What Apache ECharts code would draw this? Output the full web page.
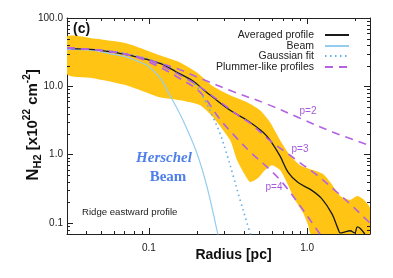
<!DOCTYPE html>
<html><head><meta charset="utf-8">
<script src="https://cdn.jsdelivr.net/npm/echarts@6/dist/echarts.min.js"></script>
<style>html,body{margin:0;padding:0;background:#fff}#c{width:393px;height:278px}</style>
</head><body><div id="c"></div>
<script>
// ---- axis ranges and ticks ----
const xMin = 0.0303, xMax = 2.5, yMin = 0.069, yMax = 100;
const xMajorTicks = [0.1, 1];
const xTickLabels = ['0.1', '1.0'];
const yMajorTicks = [0.1, 1, 10, 100];
const yTickLabels = ['0.1', '1.0', '10.0', '100.0'];
const xMinorTicks = [0.04,0.05,0.06,0.07,0.08,0.09,0.2,0.3,0.4,0.5,0.6,0.7,0.8,0.9,2];
const yMinorTicks = [0.08,0.09,0.2,0.3,0.4,0.5,0.6,0.7,0.8,0.9,2,3,4,5,6,7,8,9,20,30,40,50,60,70,80,90];

// ---- data (radius [pc], N_H2 [1e22 cm^-2]) ----
const bandUpper = [[0.0303,53.7],[0.0443,50.2],[0.0726,42.5],[0.1174,28.4],[0.157,22.4],[0.201,16.0],[0.254,10.0],[0.326,7.39],[0.417,5.84],[0.504,4.46],[0.583,2.98],[0.675,1.63],[0.78,0.98],[0.903,0.70],[1.09,0.594],[1.26,0.519],[1.40,0.397],[1.62,0.248],[1.87,0.217],[2.07,0.248],[2.26,0.224],[2.5,0.166]];
const bandLower = [[0.0303,15.0],[0.0443,13.1],[0.0726,10.3],[0.1174,6.91],[0.157,6.25],[0.2105,5.28],[0.254,3.53],[0.326,1.63],[0.361,0.83],[0.405,0.502],[0.436,0.397],[0.49,0.454],[0.542,0.594],[0.60,0.70],[0.675,0.594],[0.747,0.384],[0.839,0.217],[0.944,0.140],[1.015,0.0935],[1.06,0.069],[2.5,0.069]];
const averaged = [[0.0303,35.9],[0.049,33.6],[0.0758,28.4],[0.1174,21.7],[0.136,18.3],[0.157,15.2],[0.19,12.0],[0.22,9.0],[0.254,6.9],[0.326,4.46],[0.417,3.19],[0.527,2.13],[0.583,1.63],[0.675,0.95],[0.759,0.55],[0.877,0.39],[1.06,0.305],[1.245,0.224],[1.44,0.135],[1.57,0.082],[1.62,0.0715],[1.74,0.074],[1.87,0.077],[2.0,0.0715],[2.08,0.0875],[2.17,0.083],[2.32,0.069]];
const beam = [[0.0303,34.7],[0.0443,33.6],[0.06,29.3],[0.0726,26.8],[0.085,23.2],[0.0971,20.3],[0.1174,13.3],[0.136,7.3],[0.164,3.19],[0.201,1.05],[0.233,0.336],[0.269,0.079],[0.28,0.05]];
const gaussianFit = [[0.0303,36],[0.049,34],[0.0758,29.5],[0.1174,22],[0.157,15.3],[0.196,10.5],[0.226,6.25],[0.254,3.53],[0.281,2.06],[0.312,0.98],[0.34,0.5],[0.377,0.217],[0.417,0.1],[0.443,0.065]];
const plummerP2 = [[0.0303,36.5],[0.05,33.5],[0.08,28],[0.1174,21.7],[0.15,18.3],[0.2105,13.1],[0.34,8.4],[0.558,5.5],[0.903,3.41],[1.46,2.13],[2.5,1.36]];
const plummerP3 = [[0.0303,36.5],[0.05,33.5],[0.08,28],[0.1174,20.5],[0.157,14.6],[0.21,9.8],[0.294,5.5],[0.377,3.6],[0.436,2.9],[0.583,1.6],[0.78,0.98],[0.903,0.76],[1.157,0.5],[1.5,0.3],[1.87,0.19],[2.26,0.125],[2.5,0.1]];
const plummerP4 = [[0.0303,36.5],[0.05,33.5],[0.08,27.5],[0.1174,19],[0.157,13],[0.2105,8.2],[0.281,3.3],[0.34,2.0],[0.436,1.1],[0.583,0.6],[0.705,0.38],[0.944,0.155],[1.157,0.079],[1.3,0.055]];

const names = ['Averaged profile','Beam','Gaussian fit','Plummer-like profiles'];

const C_BAND = '#FFC414', C_AVG = '#1a1a1a', C_BEAM = '#95CDF0', C_GAUSS = '#62ADE6', C_PLUM = '#B462E2';
const FONT = 'Liberation Sans, Arial, sans-serif';
const NARROW = 'Liberation Sans Narrow, Liberation Sans, Arial, sans-serif';

function fmt(ticks, labels) {
  return function (v) {
    for (let i = 0; i < ticks.length; i++) if (Math.abs(Math.log10(v) - Math.log10(ticks[i])) < 1e-6) return labels[i];
    return '';
  };
}

const axisBase = {
  type: 'log', logBase: 10,
  axisLine: { show: true, onZero: false, lineStyle: { color: '#222', width: 1 } },
  axisTick: { show: true, inside: true, length: 6, lineStyle: { color: '#222', width: 1 } },
  splitLine: { show: false },
  minorTick: { show: false }, minorSplitLine: { show: false }
};

function legendRow(name, top) {
  return {
    data: [name], right: 43, top: top, orient: 'vertical', align: 'right',
    itemWidth: 24, itemHeight: 12, padding: 0, itemGap: 0, selectedMode: false,
    itemStyle: { opacity: 0 },
    textStyle: { fontFamily: NARROW, fontSize: 10.5, color: '#222', lineHeight: 12, padding: [0, 6, 0, 0] }
  };
}

const chart = echarts.init(document.getElementById('c'), null, { renderer: 'canvas' });

const boldF = function (size) { return { fontFamily: FONT, fontWeight: 'bold', fontSize: size, fill: '#111', color: '#111' }; };

chart.setOption({
  animation: false,
  backgroundColor: '#fff',
  grid: { left: 67, right: 23, top: 18, bottom: 44, containLabel: false },
  legend: [legendRow(names[0], 29), legendRow(names[1], 40), legendRow(names[2], 50), legendRow(names[3], 61)],
  xAxis: [
    Object.assign({}, axisBase, {
      min: xMin, max: xMax, position: 'bottom',
      axisLabel: { show: true, margin: 9, showMinLabel: false, showMaxLabel: false, fontFamily: FONT, fontSize: 10, color: '#222', formatter: fmt(xMajorTicks, xTickLabels) },
      name: 'Radius [pc]', nameLocation: 'middle', nameGap: 14, nameMoveOverlap: false,
      nameTextStyle: { fontFamily: FONT, fontWeight: 'bold', fontSize: 14, color: '#111', padding: [0, 0, 0, 30] }
    }),
    Object.assign({}, axisBase, { min: xMin, max: xMax, position: 'top', axisLabel: { show: false } })
  ],
  yAxis: [
    Object.assign({}, axisBase, {
      min: yMin, max: yMax, position: 'left',
      axisLabel: { show: true, margin: 4, showMinLabel: false, fontFamily: FONT, fontSize: 10, color: '#222', formatter: fmt(yMajorTicks, yTickLabels) }
    }),
    Object.assign({}, axisBase, { min: yMin, max: yMax, position: 'right', axisLabel: { show: false } })
  ],
  graphic: [
    {
      type: 'text', x: 33, y: 125, rotation: Math.PI / 2, z: 100,
      style: {
        text: '{n|N}{s|H2}{t| [x10}{p|22}{t| cm}{p|-2}{t|]}',
        align: 'center', verticalAlign: 'middle',
        rich: {
          n: Object.assign(boldF(17), { lineHeight: 21, verticalAlign: 'middle' }),
          s: Object.assign(boldF(11), { lineHeight: 11, verticalAlign: 'bottom' }),
          t: Object.assign(boldF(15), { lineHeight: 21, verticalAlign: 'middle' }),
          p: Object.assign(boldF(10), { lineHeight: 10, verticalAlign: 'top' })
        }
      }
    },
    { type: 'text', left: 73, top: 22, z: 100, style: { text: '(c)', font: 'bold 14px ' + FONT, fill: '#111' } },
    { type: 'text', x: 164, y: 158, z: 100, style: { text: 'Herschel', font: 'italic bold 15px Liberation Serif, Times New Roman, serif', fill: '#4F7FEA', align: 'center', verticalAlign: 'middle' } },
    { type: 'text', x: 168, y: 177, z: 100, style: { text: 'Beam', font: 'bold 15px Liberation Serif, Times New Roman, serif', fill: '#4F7FEA', align: 'center', verticalAlign: 'middle' } },
    { type: 'text', x: 82, y: 212, z: 100, style: { text: 'Ridge eastward profile', font: '9.6px ' + FONT, fill: '#222', verticalAlign: 'middle' } },
    { type: 'text', x: 308, y: 111, z: 100, style: { text: 'p=2', font: '10px ' + FONT, fill: '#A55BDC', align: 'center', verticalAlign: 'middle' } },
    { type: 'text', x: 300, y: 149, z: 100, style: { text: 'p=3', font: '10px ' + FONT, fill: '#A55BDC', align: 'center', verticalAlign: 'middle' } },
    { type: 'text', x: 274, y: 187, z: 100, style: { text: 'p=4', font: '10px ' + FONT, fill: '#A55BDC', align: 'center', verticalAlign: 'middle' } }
  ],
  series: [
    {
      type: 'custom', name: 'band', coordinateSystem: 'cartesian2d', silent: true, z: 1, clip: true,
      data: [[xMin, yMin]],
      renderItem: function (params, api) {
        const pts = [];
        bandUpper.forEach(function (d) { pts.push(api.coord(d)); });
        for (let i = bandLower.length - 1; i >= 0; i--) pts.push(api.coord(bandLower[i]));
        return { type: 'polygon', shape: { points: pts, smooth: 0.2 }, style: { fill: C_BAND, stroke: null } };
      }
    },
    { type: 'line', name: names[1], data: beam, showSymbol: false, symbol: 'none', smooth: 0.35, z: 3, lineStyle: { color: C_BEAM, width: 1.2 }, itemStyle: { color: C_BEAM } },
    { type: 'line', name: names[2], data: gaussianFit, showSymbol: false, symbol: 'none', smooth: 0.35, z: 3, lineStyle: { color: C_GAUSS, width: 1.6, type: [1.5, 3.5] }, itemStyle: { color: C_GAUSS } },
    { type: 'line', name: names[0], data: averaged, showSymbol: false, symbol: 'none', smooth: 0.35, z: 4, lineStyle: { color: C_AVG, width: 1.3 }, itemStyle: { color: C_AVG } },
    { type: 'line', name: names[3], data: plummerP2, showSymbol: false, symbol: 'none', smooth: 0.35, z: 5, lineStyle: { color: C_PLUM, width: 1.6, type: [8, 6] }, itemStyle: { color: C_PLUM } },
    { type: 'line', name: names[3], data: plummerP3, showSymbol: false, symbol: 'none', smooth: 0.35, z: 5, lineStyle: { color: C_PLUM, width: 1.6, type: [8, 6] }, itemStyle: { color: C_PLUM } },
    { type: 'line', name: names[3], data: plummerP4, showSymbol: false, symbol: 'none', smooth: 0.35, z: 5, lineStyle: { color: C_PLUM, width: 1.6, type: [8, 6] }, itemStyle: { color: C_PLUM } },
    {
      type: 'custom', name: 'minorTicks', coordinateSystem: 'cartesian2d', silent: true, z: 10,
      data: [[xMin, yMin]],
      renderItem: function (params, api) {
        const cs = params.coordSys;
        const L = cs.x, T = cs.y, R = cs.x + cs.width, B = cs.y + cs.height;
        const st = { stroke: '#222', lineWidth: 1 };
        const ch = [];
        function ln(x1, y1, x2, y2) { ch.push({ type: 'line', shape: { x1: x1, y1: y1, x2: x2, y2: y2 }, style: st }); }
        xMinorTicks.forEach(function (v) {
          const px = Math.round(api.coord([v, yMax])[0]) + 0.5;
          ln(px, B, px, B - 3); ln(px, T, px, T + 3);
        });
        yMinorTicks.forEach(function (v) {
          const py = Math.round(api.coord([xMin, v])[1]) + 0.5;
          ln(L, py, L + 3, py); ln(R, py, R - 3, py);
        });
        return { type: 'group', children: ch };
      }
    }
  ]
});
</script>
</body></html>
